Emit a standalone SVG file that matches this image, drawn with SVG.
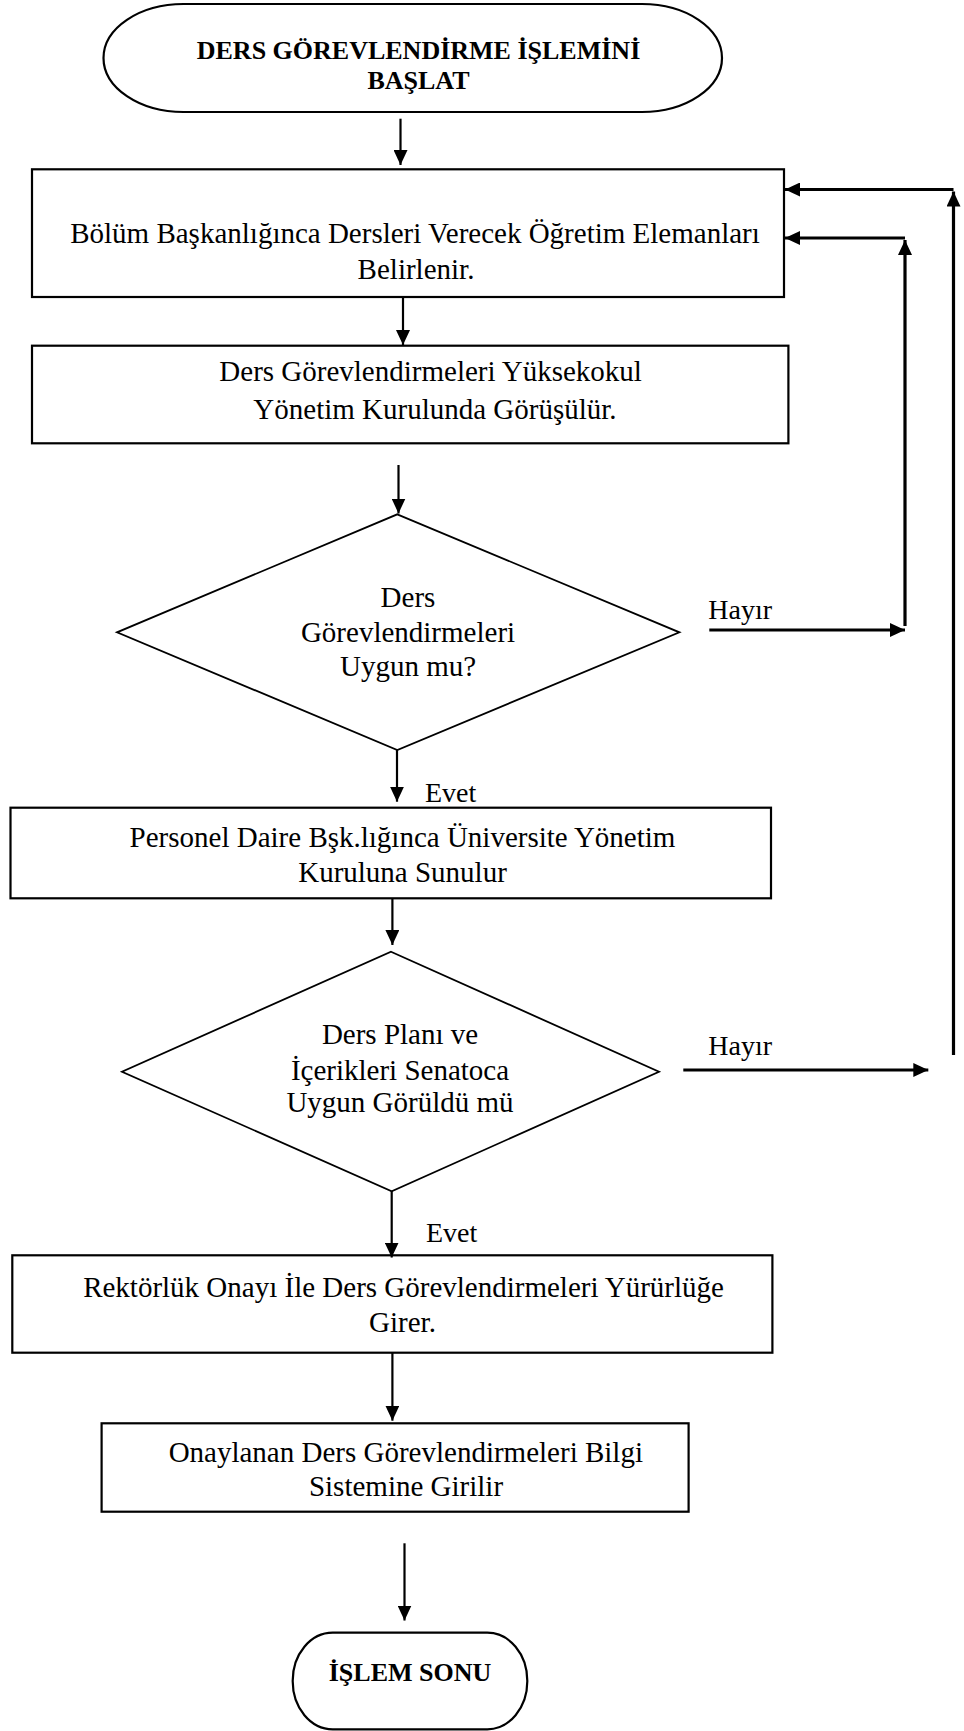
<svg xmlns="http://www.w3.org/2000/svg" width="964" height="1731" viewBox="0 0 964 1731">
<style>
  .shape { fill: #fff; stroke: #000; stroke-width: 2.2; }
  .dia { fill: #fff; stroke: #000; stroke-width: 1.8; }
  .t { font-family: "Liberation Serif", "Times New Roman", serif; font-size: 29px; fill: #000; text-anchor: middle; }
  .tb { font-family: "Liberation Serif", "Times New Roman", serif; font-size: 26px; font-weight: bold; fill: #000; text-anchor: middle; }
  .lbl { font-family: "Liberation Serif", "Times New Roman", serif; font-size: 28px; fill: #000; }
  .c { fill: none; stroke: #000; stroke-width: 2.2; marker-end: url(#ah); }
  .cf { fill: none; stroke: #000; stroke-width: 3.2; marker-end: url(#ah); }
</style>
<defs>
  <marker id="ah" markerUnits="userSpaceOnUse" markerWidth="16" markerHeight="14" refX="15" refY="7" orient="auto">
    <path d="M0,0 L15,7 L0,14 Z" fill="#000"/>
  </marker>
</defs>
<rect width="964" height="1731" fill="#fff"/>

<g id="start">
  <rect class="shape" x="103.5" y="4" width="618.5" height="108" rx="80" ry="54"/>
  <text class="tb" x="418.5" y="59.3">DERS GÖREVLENDİRME İŞLEMİNİ</text>
  <text class="tb" x="418.5" y="89.3">BAŞLAT</text>
</g>

<g id="box1">
  <rect class="shape" x="32" y="169.3" width="752" height="127.7"/>
  <text class="t" x="415" y="243.3">Bölüm Başkanlığınca Dersleri Verecek Öğretim Elemanları</text>
  <text class="t" x="416" y="278.5">Belirlenir.</text>
</g>

<g id="box2">
  <rect class="shape" x="32" y="345.7" width="756.4" height="97.6"/>
  <text class="t" x="430.6" y="381">Ders Görevlendirmeleri Yüksekokul</text>
  <text class="t" x="435" y="419.3">Yönetim Kurulunda Görüşülür.</text>
</g>

<g id="decision1">
  <polygon class="dia" points="397.3,514.3 679.4,632.3 397.3,750 117,632.3"/>
  <text class="t" x="408" y="607.3">Ders</text>
  <text class="t" x="408" y="641.7">Görevlendirmeleri</text>
  <text class="t" x="408" y="676">Uygun mu?</text>
</g>

<g id="box3">
  <rect class="shape" x="10.5" y="807.7" width="760.5" height="90.6"/>
  <text class="t" x="402.5" y="846.7">Personel Daire Bşk.lığınca Üniversite Yönetim</text>
  <text class="t" x="402.5" y="881.7">Kuruluna Sunulur</text>
</g>

<g id="decision2">
  <polygon class="dia" points="391,951.7 659,1071.7 391.7,1191.3 122,1071.7"/>
  <text class="t" x="400" y="1044.3">Ders Planı ve</text>
  <text class="t" x="400" y="1080">İçerikleri Senatoca</text>
  <text class="t" x="400" y="1111.7">Uygun Görüldü mü</text>
</g>

<g id="box4">
  <rect class="shape" x="12.3" y="1255.3" width="760.1" height="97.4"/>
  <text class="t" x="403.5" y="1297.3">Rektörlük Onayı İle Ders Görevlendirmeleri Yürürlüğe</text>
  <text class="t" x="402.5" y="1331.7">Girer.</text>
</g>

<g id="box5">
  <rect class="shape" x="101.6" y="1423.3" width="587" height="88.4"/>
  <text class="t" x="405.8" y="1461.7">Onaylanan Ders Görevlendirmeleri Bilgi</text>
  <text class="t" x="406" y="1496">Sistemine Girilir</text>
</g>

<g id="end">
  <rect class="shape" x="292.7" y="1632.7" width="234.6" height="96.6" rx="40" ry="48"/>
  <text class="tb" x="410" y="1680.7">İŞLEM SONU</text>
</g>

<g id="connectors">
  <line class="c" x1="400.5" y1="118.7" x2="400.5" y2="165"/>
  <line class="c" x1="403" y1="297" x2="403" y2="345"/>
  <line class="c" x1="398.5" y1="465" x2="398.5" y2="513.5"/>
  <line class="c" x1="397" y1="750" x2="397" y2="801.7"/>
  <line class="c" x1="392.4" y1="898.3" x2="392.4" y2="945"/>
  <line class="c" x1="391.7" y1="1191" x2="391.7" y2="1257.5"/>
  <line class="c" x1="392.4" y1="1352.7" x2="392.4" y2="1420.7"/>
  <line class="c" x1="404.5" y1="1543.3" x2="404.5" y2="1620.5"/>

  <line class="cf" x1="709.3" y1="630" x2="905" y2="630"/>
  <line class="cf" x1="905" y1="626" x2="905" y2="240"/>
  <line class="cf" x1="905" y1="238" x2="785" y2="238"/>

  <line class="cf" x1="683.3" y1="1070" x2="928.3" y2="1070"/>
  <line class="cf" x1="953.5" y1="1055" x2="953.5" y2="191.5"/>
  <line class="cf" x1="953.5" y1="189.5" x2="785" y2="189.5"/>

  <text class="lbl" x="708.3" y="619.3">Hayır</text>
  <text class="lbl" x="708.3" y="1055">Hayır</text>
  <text class="lbl" x="425" y="801.7">Evet</text>
  <text class="lbl" x="426" y="1241.7">Evet</text>
</g>
</svg>
